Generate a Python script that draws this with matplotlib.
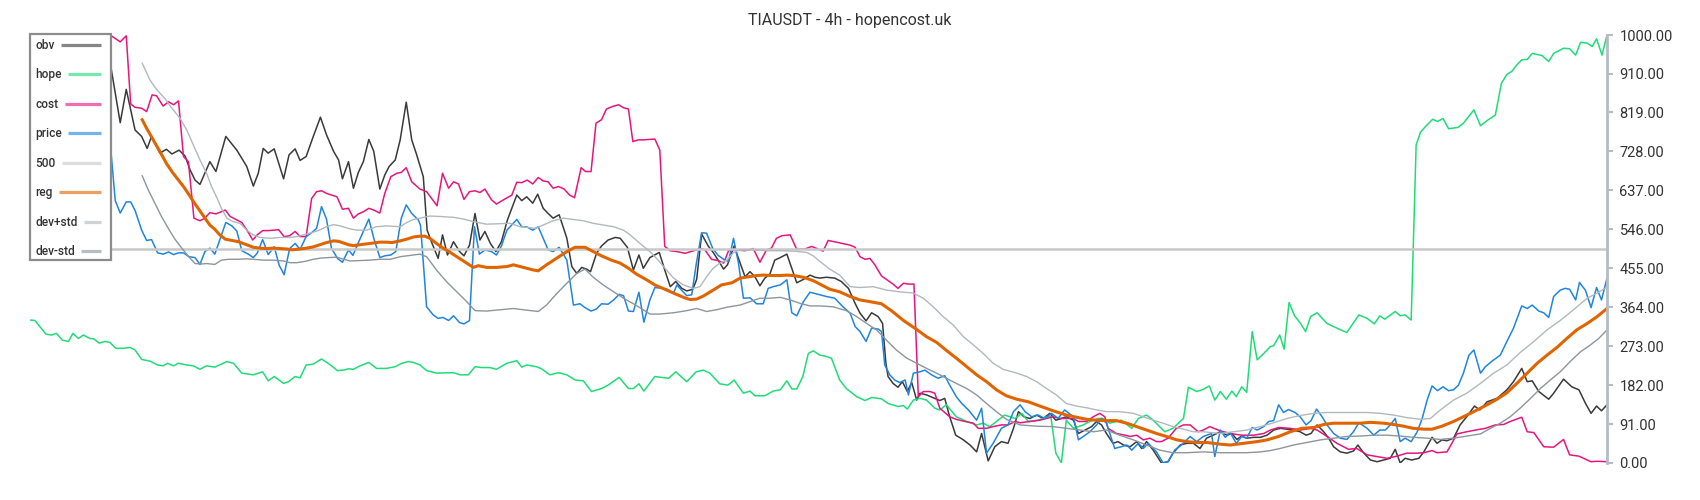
#!/usr/bin/env python3
# -*- coding: utf-8 -*-

import sys

import matplotlib
matplotlib.use("Agg")
from matplotlib import pyplot as plt
from matplotlib.lines import Line2D
from matplotlib.patches import Rectangle
from matplotlib.ticker import FixedLocator, FormatStrFormatter

FIG_W, FIG_H = 1700, 500

TITLE = "TIAUSDT - 4h - hopencost.uk"
Y_TICKS = [0, 91, 182, 273, 364, 455, 546, 637, 728, 819, 910, 1000]
LEVEL = 500

# candle index / value pairs
OBV_T = [0, 3, 6, 9, 12,
         14.7, 16.4, 17.5, 19.1, 20.3, 21.3, 22.1, 23.6, 24.8, 25.8,
         27.1, 28.2, 29.1, 30.0, 30.9, 32.7, 33.8, 35.6, 37.6, 39.4,
         40.6, 41.5, 42.4, 43.3, 44.4, 46.1, 47.1, 48.2, 49.1, 50.2,
         51.5, 52.8, 53.9, 55.2, 56.1, 56.8, 57.9, 58.8, 59.7, 60.6,
         61.6, 62.5, 63.6, 64.5, 65.3, 66.4, 67.3, 68.4, 69.4, 70.3,
         71.5, 72.2, 73.1, 74.2, 75.0, 75.9, 77.0, 78.1, 78.9, 79.9,
         80.9, 81.8, 82.7, 83.7, 84.7, 85.7, 86.8, 88.5, 89.4, 90.3,
         91.4, 92.3, 93.3, 94.2, 95.1, 96.2, 97.6, 98.5, 99.4, 100.3,
         101.2, 101.9, 103.0, 103.9, 105.1, 106.4, 107.3, 108.6, 109.7, 110.7,
         111.5, 112.7, 114.4, 115.4, 116.4, 117.4, 118.5, 119.4, 120.5, 121.2,
         122.1, 123.3, 124.2, 125.1, 126.1, 126.8, 128.0, 129.1, 130.0, 130.9,
         131.8, 132.7, 133.6, 134.5, 135.4, 136.4, 137.6, 139.4, 140.6, 141.8,
         142.7, 143.6, 144.8, 146.3, 147.5, 148.8, 150.0, 150.9, 152.0, 153.0,
         154.2, 155.0, 155.6, 156.0, 156.9, 157.8, 158.6, 159.5, 160.3, 161.2,
         161.8, 163.0, 164.5, 165.4, 166.3, 167.2, 168.3, 169.7, 170.9, 172.1,
         173.0, 174.2, 175.4, 176.6, 177.8, 178.8, 179.7, 180.7, 181.8, 183.0,
         184.2, 185.4, 186.5, 187.5, 188.4, 189.7, 190.6, 191.8, 193.0, 193.9,
         194.8, 195.7, 196.9, 197.8, 198.8, 200.0, 201.2, 202.1, 203.0, 204.2,
         205.7, 206.9, 207.8, 209.1, 210.3, 211.5, 212.7, 213.9, 215.1,
         216.4, 217.6, 218.5, 219.4, 220.3, 221.2, 222.5, 223.7, 224.9, 226.1,
         227.3, 228.5, 229.7, 230.9, 232.0, 232.9, 234.0, 235.2, 236.1, 237.0,
         238.2, 239.4, 240.6, 241.4, 242.5, 243.7, 244.9, 246.1, 247.3, 248.2,
         249.1, 250.0, 251.2, 252.5, 253.4, 254.9, 255.8, 256.7, 257.6, 258.8,
         260.0, 261.2, 262.6, 263.6, 264.9, 266.7, 268.5, 269.7, 271.2, 272.2,
         273.1, 274.3, 276.1, 277.0, 278.8, 280.3, 281.6, 282.8, 283.8, 284.8,
         285.7, 286.7]
OBV_V = [880, 850, 905, 870, 940,
         926, 795, 873, 778, 763, 735, 763, 724, 733, 722,
         731, 717, 685, 661, 651, 704, 681, 763, 731, 693,
         647, 677, 735, 724, 734, 664, 720, 734, 707, 716,
         763, 808, 767, 728, 708, 664, 704, 642, 679, 704,
         756, 728, 640, 673, 693, 708, 755, 843, 755, 720,
         669, 544, 513, 478, 533, 486, 517, 494, 484, 509,
         583, 521, 541, 513, 494, 517, 568, 626, 613, 622,
         607, 628, 595, 583, 572, 580, 525, 459, 443, 457,
         453, 447, 490, 507, 521, 527, 525, 504, 451, 486,
         455, 480, 492, 451, 412, 424, 408, 402, 406, 429,
         535, 507, 492, 474, 453, 463, 507, 467, 435, 447,
         435, 414, 432, 441, 474, 480, 488, 421, 429, 439,
         434, 432, 434, 432, 424, 408, 373, 350, 332, 351,
         342, 326, 233, 202, 186, 177, 190, 167, 188, 147,
         163, 159, 151, 146, 151, 108, 65, 54, 42, 26,
         69, 5, 38, 50, 46, 81, 120, 108, 104, 112,
         104, 116, 100, 104, 108, 100, 69, 77, 85, 97,
         89, 69, 46, 50, 42, 38, 50, 34, 50, 30,
         0, 3, 23, 42, 46, 46, 34, 58, 65,
         73, 65, 69, 55, 63, 58, 60, 60, 65, 77,
         81, 79, 77, 73, 65, 69, 89, 73, 58, 38,
         26, 23, 28, 42, 23, 7, 3, 7, 11, 32,
         0, 11, 7, 11, 26, 60, 46, 54, 52, 58,
         89, 108, 133, 124, 143, 151, 171, 190, 221, 190,
         192, 167, 149, 163, 196, 178, 171, 139, 116, 133,
         122, 136]

HOPE_T = [0, 0.9, 2.9, 3.9, 4.8, 5.9, 7.0, 7.8, 8.8, 9.7,
          10.9, 11.6, 12.6, 13.6, 14.5, 15.6, 17.0, 18.2, 19.1, 20.3,
          21.8, 23.2, 24.2, 25.0, 26.1, 27.0, 28.5, 29.7, 30.9, 32.1,
          33.6, 35.8, 37.0, 38.5, 40.6, 42.3, 43.3, 44.4, 46.1, 47.0,
          48.2, 49.1, 50.2, 51.5, 53.0, 54.2, 55.9, 57.0, 57.9, 58.8,
          60.0, 61.6, 63.0, 64.8, 66.4, 67.6, 68.8, 69.7,
          70.9, 72.1, 73.9, 77.0, 78.2, 79.7, 80.9, 82.1, 83.6, 84.8,
          86.7, 88.5, 89.4, 90.3, 92.1, 93.0, 94.5, 96.1, 97.6, 99.1,
          100.6, 102.1, 103.9, 105.1, 107.1, 108.8, 109.7, 110.7, 111.6, 113.6,
          116.1, 117.4, 119.4, 121.1, 122.4, 123.6, 125.4, 126.9, 128.0, 129.7,
          130.9, 131.8, 133.6, 135.1, 136.4, 137.6, 138.5, 139.4, 140.5, 141.5,
          142.4,
          143.6, 144.5, 145.7, 147.2, 148.4, 150.3, 151.8, 153.0, 154.8, 156.0,
          157.8, 158.8, 159.5, 160.6, 161.8, 163.0, 164.5, 165.4, 166.6, 168.4,
          170.3, 172.1, 173.3, 174.5, 175.7, 177.2, 179.1, 180.3, 181.5, 183.3,
          184.8, 185.6, 186.5, 187.5, 188.4, 189.7, 191.5, 192.7, 194.2, 195.1,
          196.3, 197.5, 198.4, 200.3, 201.5, 203.0, 204.2, 206.3, 207.8, 209.1,
          209.7, 210.6, 212.1, 213.3, 214.4, 215.4,
          216.4, 217.5, 218.5, 219.3, 220.3, 221.2, 222.2, 223.1, 224.3, 225.5,
          226.1, 227.2, 228.0, 228.9, 229.9, 231.0, 231.9, 232.8, 234.0, 235.8,
          237.6, 239.4, 241.6, 243.1, 244.4, 245.4, 246.3, 248.2, 249.1, 250.0,
          251.1, 252.0, 252.8, 253.7, 255.0, 255.9, 256.9, 257.9, 259.6, 260.6,
          262.5, 263.7, 264.9, 266.4, 267.5, 268.5, 269.4, 270.3, 271.2, 272.2,
          273.1, 274.9, 276.1, 277.0, 278.8, 279.9, 281.0, 281.9, 283.1, 284.0,
          284.8, 285.8, 286.7]
HOPE_V = [334, 333, 301, 299, 303, 287, 284, 303, 291, 299,
          291, 290, 280, 284, 282, 268, 268, 270, 264, 242,
          238, 229, 227, 233, 227, 233, 229, 227, 219, 227,
          224, 237, 233, 210, 206, 213, 192, 202, 186, 190,
          202, 199, 229, 231, 243, 233, 216, 217, 220, 219,
          227, 235, 221, 221, 225, 233, 237, 235,
          229, 216, 210, 211, 206, 206, 225, 223, 223, 219,
          233, 239, 224, 229, 225, 220, 206, 211, 206, 194,
          192, 167, 174, 182, 200, 174, 174, 185, 168, 202,
          198, 213, 190, 213, 217, 210, 185, 182, 194, 163,
          168, 157, 157, 168, 171, 192, 173, 173, 202, 256,
          262,
          252, 250, 245, 194, 174, 155, 146, 153, 150, 139,
          132, 134, 126, 147, 151, 147, 128, 124, 136, 108,
          97, 89, 93, 85, 97, 112, 104, 116, 97, 100,
          108, 108, 23, 0, 100, 81, 89, 97, 104, 104,
          93, 97, 100, 81, 104, 112, 100, 73, 81, 97,
          104, 177, 167, 172, 180, 147,
          167, 149, 168, 155, 178, 165, 307, 241, 256, 272,
          274, 299, 266, 375, 344, 326, 307, 342, 351, 326,
          315, 305, 346, 338, 325, 344, 336, 354, 344, 346,
          334, 743, 773, 786, 803, 798, 805, 781, 784, 794,
          825, 788, 800, 813, 887, 908, 915, 930, 942, 943,
          957, 952, 938, 957, 969, 968, 953, 983, 981, 973,
          991, 953, 1000]

COST_T = [0, 3, 6, 9, 12,
          14.8, 16.4, 17.5, 18.3, 19.1, 20.3, 21.2, 22.2, 23.0, 24.2,
          25.2, 26.1, 27.0, 27.9, 28.8, 29.8, 30.9, 31.8, 32.7, 33.8,
          35.5, 36.4, 37.6, 38.5, 39.4, 40.5, 41.3, 42.3, 43.3, 45.2,
          46.2, 47.2, 48.2, 49.1, 50.2, 51.2, 52.1, 53.0, 53.9, 55.8,
          56.8, 57.9, 58.8, 59.7, 60.6, 61.6, 62.5, 63.6, 64.5, 65.6,
          66.7, 67.5, 68.4, 69.4,
          70.9, 72.1, 74.0, 75.0, 76.1, 77.0, 77.9, 78.9, 79.9, 80.9,
          81.8, 82.7, 83.9, 84.8, 86.1, 87.6, 88.5, 89.4, 90.4, 91.4,
          92.4, 93.3, 94.2, 95.1, 96.1, 97.1, 98.1, 99.0, 100.2, 101.0,
          102.0, 102.9, 103.9, 104.8, 105.9, 107.0, 107.9, 108.8, 109.6, 110.6,
          111.6, 112.7, 113.6, 114.5, 115.4, 116.4, 117.6, 119.1, 121.2, 121.8,
          122.7, 123.9, 125.1, 126.1, 127.0, 128.2, 130.0, 131.5, 132.7, 133.9,
          134.8, 135.7, 136.7, 138.2, 139.4, 140.9, 142.1,
          143.6, 144.2, 145.1, 146.6, 149.1, 150.0, 150.9, 151.8, 152.7, 153.6,
          154.8, 155.7, 156.9, 157.8, 158.8, 159.7, 160.7, 161.5, 162.4, 163.6,
          164.5, 165.4, 166.3, 167.2, 168.4, 170.0, 171.5, 172.4, 173.9, 175.1,
          176.6, 177.8, 179.1, 180.0, 181.8, 183.6, 184.8, 186.0, 187.5, 188.4,
          189.7, 190.6, 192.1, 193.3, 194.5, 195.4, 196.0, 197.5, 199.1, 200.0,
          201.2, 202.4, 203.6, 204.8, 205.7, 206.9, 208.4, 209.7, 210.9, 212.4,
          213.3, 214.5,
          216.4, 218.2, 220.3, 222.5, 224.3, 225.5, 227.0, 229.1, 231.0, 232.8,
          234.0, 235.8, 237.6, 239.7, 241.2, 243.1, 244.9, 246.7, 248.5, 250.3,
          252.2, 253.4, 254.9, 255.8, 257.6, 258.5, 259.4, 261.2, 262.8, 264.6,
          266.4, 267.9, 269.1, 271.2, 272.2, 273.4, 275.2, 277.0, 278.8, 279.9,
          281.6, 283.8, 284.9, 286.7]
COST_V = [975, 990, 970, 995, 985,
          998, 984, 998, 839, 831, 829, 821, 860, 858, 834,
          844, 837, 846, 716, 704, 572, 566, 572, 585, 582,
          591, 576, 568, 562, 545, 521, 533, 543, 543, 545,
          529, 531, 541, 529, 529, 618, 634, 636, 630, 622,
          593, 595, 572, 582, 587, 595, 591, 584, 630, 669,
          677, 679, 690, 657,
          640, 634, 601, 677, 642, 657, 652, 616, 634, 636,
          632, 640, 615, 605, 615, 626, 656, 655, 661, 652,
          667, 659, 657, 642, 646, 640, 626, 620, 690, 681,
          681, 794, 802, 827, 833, 837, 830, 827, 751, 755,
          755, 756, 757, 731, 506, 496, 494, 490, 498, 502,
          498, 476, 473, 467, 496, 498, 496, 501, 469, 498,
          502, 525, 531, 533, 499, 500, 506,
          498, 495, 520, 516, 509, 504, 482, 476, 478, 463,
          437, 429, 418, 408, 420, 418, 418, 155, 167, 167,
          163, 128, 118, 108, 102, 97, 93, 81, 81, 85,
          89, 89, 97, 94, 97, 100, 104, 108, 104, 104,
          104, 97, 97, 108, 116, 108, 81, 69, 65, 62,
          65, 54, 58, 50, 50, 58, 81, 89, 89, 73,
          77, 85,
          75, 69, 65, 65, 69, 77, 83, 81, 77, 81,
          77, 62, 46, 32, 34, 19, 15, 11, 16, 23,
          23, 24, 29, 24, 26, 46, 68, 73, 77, 81,
          89, 90, 97, 107, 73, 71, 38, 37, 55, 19,
          16, 3, 4, 3]

PRICE_T = [0, 3, 6, 9, 12,
           14.7, 15.5, 16.4, 17.5, 18.3, 19.1, 20.3, 21.2, 22.1, 23.2,
           24.2, 25.2, 26.1, 27.0, 27.9, 28.9, 30.0, 30.9, 31.8, 32.7,
           33.6, 35.6, 36.7, 37.6, 38.5, 39.7, 40.6, 41.3, 42.3, 43.3,
           44.4, 45.3, 46.2, 47.2, 48.2, 49.1, 50.2, 51.2, 52.1, 53.0,
           53.9, 54.8, 55.9, 56.8, 57.9, 58.7, 59.7, 60.6, 61.6, 62.5,
           63.6, 64.5, 65.6, 66.5, 67.5, 68.4, 69.4, 70.6,
           71.0, 72.1, 73.3, 74.2, 75.1, 76.1, 77.0, 78.1, 78.9, 79.9, 80.8,
           81.7, 82.7, 83.9, 84.8, 85.7, 86.7, 88.5, 89.4, 90.3, 91.4,
           92.4, 93.3, 94.2, 95.1, 96.2, 97.6, 98.8, 100.0, 100.9, 102.0,
           103.0, 103.9, 105.1, 106.2, 107.1, 107.9, 108.8, 109.7, 110.7, 111.6,
           112.7, 113.6, 115.7, 117.0, 117.6, 118.5, 119.4, 120.3, 121.1, 122.1,
           123.0, 124.1, 125.1, 126.1, 127.0, 127.9, 128.8, 129.7, 130.9, 132.1,
           133.3, 134.2, 135.1, 136.4, 137.6, 138.5, 139.4, 140.6, 141.8,
           143.6, 144.8, 146.3, 147.8, 149.1, 150.0, 150.9, 152.0, 153.0, 154.2,
           154.8, 155.4, 156.3, 157.2, 158.1, 159.1, 159.7, 160.6, 161.8, 162.7,
           163.9, 165.1, 166.3, 167.2, 168.4, 169.4, 170.6, 172.1, 173.0, 173.9,
           175.1, 176.6, 177.8, 178.8, 180.0, 180.9, 182.1, 183.3, 184.5, 185.7,
           186.9, 188.1, 189.7, 190.6, 191.8, 192.7, 193.9, 194.8, 195.7, 197.2,
           198.4, 199.4, 200.3, 201.5, 202.4, 203.3, 204.8, 206.0, 206.9, 208.1,
           209.7, 210.9, 212.1, 213.3, 214.8, 215.4,
           216.4, 217.3, 218.2, 219.3, 220.3, 221.2, 222.2, 223.1, 224.3, 225.2,
           226.1, 227.0, 227.9, 228.8, 230.0, 230.9, 232.0, 232.9, 233.9, 234.9,
           235.8, 237.0, 238.2, 239.4, 240.6, 241.6, 243.1, 244.3, 245.4, 246.4,
           247.3, 248.2, 249.1, 250.0, 251.1, 252.2, 253.1, 254.0, 254.9, 255.9,
           256.9, 257.9, 258.8, 259.7, 260.6, 261.6, 262.5, 263.7, 264.6, 265.8,
           267.3, 268.5, 269.7, 271.2, 272.2, 273.1, 274.3, 275.2, 276.1, 277.0,
           278.2, 279.1, 279.9, 281.0, 281.7, 282.8, 283.8, 284.8, 285.7, 286.7]
PRICE_V = [800, 770, 790, 760, 775,
           731, 613, 584, 610, 610, 590, 544, 520, 522, 491,
           488, 493, 487, 491, 491, 482, 480, 464, 494, 502,
           488, 562, 554, 542, 496, 488, 480, 490, 522, 487,
           505, 462, 440, 501, 513, 499, 529, 538, 548, 599,
           570, 502, 478, 469, 498, 485, 515, 541, 570, 525,
           480, 484, 486, 494, 572, 603, 583, 568,
           555, 365, 346, 338, 340, 333, 344, 328, 325, 333, 552,
           488, 498, 494, 486, 507, 544, 569, 552, 552, 544,
           552, 525, 498, 494, 504, 474, 369, 372, 363, 355,
           360, 372, 371, 382, 394, 391, 355, 354, 399, 329,
           381, 410, 407, 397, 416, 403, 391, 393, 463, 538,
           537, 502, 485, 476, 471, 525, 467, 385, 386, 372,
           372, 408, 412, 416, 428, 351, 344, 377, 399,
           393, 389, 385, 365, 350, 319, 307, 284, 315, 313,
           307, 229, 206, 194, 188, 194, 159, 210, 213, 217,
           206, 198, 204, 182, 155, 139, 124, 100, 128, 23,
           46, 81, 89, 120, 136, 120, 108, 112, 104, 116,
           104, 124, 108, 54, 65, 73, 89, 104, 93, 34,
           38, 42, 30, 46, 34, 46, 26, 0, 3, 30,
           46, 62, 50, 62, 69, 15,
           77, 60, 71, 46, 62, 58, 83, 77, 85, 97,
           99, 136, 118, 125, 118, 108, 89, 99, 126, 108,
           89, 69, 58, 55, 73, 94, 81, 65, 77, 77,
           89, 104, 50, 58, 50, 73, 104, 147, 180, 169,
           178, 169, 171, 182, 210, 252, 264, 210, 225, 238,
           252, 284, 315, 367, 361, 369, 355, 351, 340, 389,
           404, 408, 406, 381, 422, 403, 363, 410, 381, 432]

REG_T = [20.4, 21.2, 22.4, 23.6, 24.8, 25.9, 27.0, 27.9, 28.8, 29.7,
         30.9, 31.8, 32.7, 33.6, 34.5, 35.5, 36.7, 37.9, 39.4, 40.6,
         41.8, 43.0, 44.2, 45.5, 46.7, 47.6, 49.1, 50.3, 51.5, 52.7,
         53.9, 55.2, 56.1, 57.0, 57.9, 58.8, 60.0, 61.2, 62.4, 63.6,
         64.8, 65.8, 67.3, 68.5, 69.7,
         70.9, 71.8, 72.7, 73.9, 75.1, 76.4, 77.6, 78.8, 80.6, 81.5,
         83.0, 84.8, 86.7, 87.9, 89.1, 90.3, 91.5, 92.4, 93.9, 95.7,
         97.6, 99.1, 100.9, 102.4, 103.9, 105.7, 107.3, 108.8, 110.3, 112.1,
         113.6, 115.4, 117.0, 118.8, 120.0, 121.2, 122.4, 124.2, 125.7, 127.6,
         129.1, 130.6, 132.1, 133.3, 135.1, 136.4, 137.6, 138.8, 140.6, 142.4,
         143.6, 145.4, 147.2, 149.1, 150.9, 152.7, 154.8, 156.6, 158.8, 161.2,
         163.0, 164.8, 166.6, 168.4, 170.3, 172.1, 173.9, 175.7, 177.5, 179.4,
         181.5, 183.6, 186.0, 188.4, 190.3, 192.1, 193.9, 195.7, 197.5, 199.4,
         201.2, 203.0, 204.8, 206.6, 208.5, 210.3, 212.1, 213.9,
         216.4, 218.2, 220.6, 223.1, 224.9, 227.0, 229.1, 231.2, 233.4, 235.2,
         237.0, 239.4, 241.9, 243.7, 246.1, 247.9, 249.7, 251.5, 253.4, 254.9,
         256.7, 258.8, 260.9, 263.1, 264.9, 266.7, 268.5, 270.3, 272.2, 274.0,
         275.8, 277.6, 279.4, 281.2, 283.1, 284.9, 286.7]
REG_V = [802, 782, 755, 728, 700, 679, 661, 646, 629, 611,
         589, 572, 556, 546, 533, 523, 520, 517, 510, 504,
         502, 501, 502, 501, 500, 498, 500, 502, 505, 510,
         515, 519, 518, 514, 510, 508, 510, 512, 514, 516,
         516, 515, 519, 523, 528,
         530, 530, 525, 513, 502, 492, 482, 472, 457, 461,
         457, 457, 459, 463, 459, 455, 451, 449, 463, 478,
         494, 504, 504, 494, 484, 474, 467, 455, 441, 428,
         416, 406, 397, 387, 382, 383, 390, 404, 416, 421,
         432, 435, 438, 439, 438, 438, 439, 438, 434, 426,
         418, 406, 400, 389, 381, 377, 372, 356, 333, 312,
         295, 282, 263, 245, 225, 206, 190, 171, 157, 149,
         143, 133, 122, 112, 107, 102, 100, 99, 99, 93,
         85, 77, 69, 62, 54, 50, 48, 48,
         44, 42, 46, 50, 54, 62, 73, 81, 83, 90,
         93, 93, 93, 95, 93, 90, 86, 81, 79, 79,
         86, 97, 110, 124, 136, 149, 164, 186, 210, 233,
         252, 270, 291, 311, 326, 342, 361]

DEV_UP_T = [20.4, 21.8, 23.0, 24.5, 25.8, 27.3, 28.5, 29.7, 30.9, 32.1,
            33.0, 33.9, 34.8, 35.8, 36.9, 38.2, 39.4, 40.6, 41.8, 43.6,
            45.5, 47.3, 48.5, 49.7, 51.2, 52.4, 53.9, 55.2, 56.4, 57.9,
            59.4, 61.2, 63.0, 64.8, 67.3, 68.5, 69.7,
            70.9, 72.7, 74.5, 77.0, 78.8, 80.6, 83.0, 85.4, 87.3, 89.1,
            90.3, 91.8, 93.3, 95.1, 97.0, 98.8, 100.6, 102.4, 104.2, 106.1,
            107.9, 109.1, 110.9, 112.7, 114.2, 115.7, 117.0, 118.8, 120.6, 121.8,
            123.0, 124.2, 125.4, 126.7, 127.9, 129.1, 131.5, 133.9, 136.4, 138.8,
            141.2, 142.4,
            143.6, 145.4, 147.2, 149.1, 150.9, 153.3, 155.7, 158.1, 160.6, 162.4,
            164.2, 166.0, 167.8, 169.7, 171.5, 173.3, 175.1, 176.9, 179.4, 181.2,
            183.0, 184.8, 186.6, 188.4, 190.3, 192.1, 193.9, 195.7, 198.1, 200.6,
            202.4, 204.2, 206.0, 207.8, 209.7, 211.5, 213.3,
            216.4, 218.8, 221.2, 223.7, 226.1, 228.5, 230.9, 233.4, 235.8, 238.2,
            240.6, 243.1, 245.5, 247.9, 250.3, 252.8, 254.6, 256.4, 258.8, 261.2,
            263.7, 266.1, 268.5, 270.9, 273.4, 275.8, 278.2, 280.6, 283.1, 284.9,
            286.7]
DEV_UP_V = [934, 895, 873, 852, 829, 805, 778, 743, 708, 677,
            646, 622, 595, 572, 564, 560, 544, 533, 527, 525,
            527, 527, 529, 533, 538, 543, 552, 557, 554, 548,
            544, 544, 552, 554, 552, 562, 569,
            572, 577, 576, 574, 570, 564, 558, 559, 560, 552,
            551, 548, 556, 566, 572, 569, 566, 560, 556, 552,
            544, 533, 513, 494, 474, 451, 432, 416, 408, 412,
            435, 455, 467, 474, 492, 498, 498, 496, 496, 495,
            492, 484,
            471, 453, 439, 412, 410, 412, 404, 400, 397, 385,
            365, 342, 323, 295, 276, 256, 233, 219, 210, 202,
            190, 174, 159, 139, 133, 129, 124, 120, 120, 116,
            108, 100, 93, 85, 79, 73, 73,
            69, 73, 77, 85, 94, 104, 111, 116, 118, 118,
            118, 118, 116, 112, 106, 102, 104, 124, 147, 163,
            186, 210, 229, 258, 284, 311, 333, 358, 385, 397,
            411]

DEV_DN_T = [20.4, 21.5, 22.7, 23.9, 25.2, 26.4, 27.6, 28.8, 30.0, 31.2,
            32.1, 33.6, 34.8, 36.1, 37.6, 39.4, 40.6, 42.4, 44.2, 46.1,
            47.3, 48.5, 50.0, 51.5, 53.0, 54.5, 55.8, 57.0, 58.2, 60.0,
            61.8, 63.6, 65.5, 67.3, 69.1,
            70.9, 72.1, 73.9, 75.7, 77.6, 79.4, 80.9, 83.0, 85.4, 87.9,
            89.7, 92.4, 93.9, 95.7, 97.6, 99.4, 100.9, 102.4, 104.2, 106.1,
            107.9, 109.7, 111.5, 112.7, 114.5, 117.0, 119.4, 121.2, 123.0, 124.8,
            126.7, 129.1, 130.9, 132.7, 134.5, 136.4, 138.2, 140.0, 141.8,
            143.6, 146.0, 148.4, 150.3, 152.1, 153.9, 155.7, 157.5, 159.4, 161.2,
            163.0, 164.8, 166.6, 168.4, 170.3, 172.1, 173.9, 175.7, 177.5, 180.0,
            183.0, 186.0, 188.4, 190.9, 193.3, 195.7, 198.1, 200.6, 203.0, 205.4,
            207.8, 210.3, 213.3,
            216.4, 218.8, 221.2, 223.7, 225.5, 227.3, 229.7, 232.2, 234.6, 237.0,
            239.4, 241.9, 244.3, 246.7, 249.1, 251.5, 254.0, 256.4, 258.8, 261.2,
            263.7, 265.5, 267.3, 269.1, 270.9, 272.8, 274.6, 276.4, 278.2, 280.0,
            281.9, 283.7, 285.2, 286.7]
DEV_DN_V = [671, 638, 607, 576, 547, 522, 502, 483, 466, 465,
            466, 464, 474, 476, 476, 477, 476, 474, 474, 472,
            468, 468, 471, 476, 479, 480, 481, 476, 472, 473,
            474, 476, 476, 482, 485,
            488, 482, 451, 424, 400, 377, 356, 355, 358, 361,
            358, 354, 369, 395, 420, 443, 453, 434, 416, 400,
            385, 372, 358, 348, 348, 351, 356, 361, 354, 358,
            364, 369, 377, 385, 385, 387, 381, 373, 367,
            367, 365, 356, 342, 326, 311, 287, 264, 245, 233,
            221, 210, 198, 186, 174, 159, 139, 120, 102, 89,
            86, 85, 81, 77, 73, 77, 65, 54, 42, 30,
            24, 24, 26,
            24, 24, 24, 26, 29, 34, 42, 48, 54, 58,
            62, 63, 65, 65, 63, 60, 58, 55, 58, 63,
            68, 81, 93, 108, 128, 151, 174, 194, 213, 237,
            260, 276, 291, 311]

COLORS = {
    "obv": "#3a3a3a",
    "hope": "#20dc78",
    "cost": "#e6167e",
    "price": "#1f85e0",
    "500": "#c8c8c8",
    "reg": "#e06400",
    "dev+std": "#b2b8be",
    "dev-std": "#8d959d",
}


def fx(px: float) -> float:
    return px / FIG_W


def fy(py: float) -> float:
    # pixel rows counted from the top
    return 1 - py / FIG_H


def draw_legend(fig: plt.Figure, ax: plt.Axes) -> None:
    # boxed legend: label on the left, swatch running to a common right edge
    renderer = fig.canvas.get_renderer()
    fig.add_artist(Rectangle((fx(30), fy(260)), fx(81), 226 / FIG_H, transform=fig.transFigure,
                             facecolor="white", edgecolor="#8c8c8c", linewidth=1.6, zorder=5))
    row_y = 44.5
    for line in ax.get_lines():
        label = line.get_label()
        txt = fig.text(fx(35), fy(row_y + 4.2), label, ha="left", va="baseline",
                       fontsize=8.6, color="#333333", fontweight="medium", zorder=6)
        right = txt.get_window_extent(renderer).x1
        fig.add_artist(Line2D([fx(right + 6.5), fx(101)], [fy(row_y), fy(row_y)],
                              transform=fig.transFigure, color=line.get_color(),
                              linewidth=2.3, alpha=0.62, solid_capstyle="butt", zorder=6))
        row_y += 29.5


def plot_chart(ax: plt.Axes) -> None:
    ax.plot(OBV_T, OBV_V, color=COLORS["obv"], lw=1.1, label="obv")
    ax.plot(HOPE_T, HOPE_V, color=COLORS["hope"], lw=1.1, label="hope")
    ax.plot(COST_T, COST_V, color=COLORS["cost"], lw=1.1, label="cost")
    ax.plot(PRICE_T, PRICE_V, color=COLORS["price"], lw=1.1, label="price")
    ax.axhline(LEVEL, color=COLORS["500"], lw=1.8, label="500")
    ax.plot(REG_T, REG_V, color=COLORS["reg"], lw=2.2, label="reg")
    ax.plot(DEV_UP_T, DEV_UP_V, color=COLORS["dev+std"], lw=1.0, label="dev+std")
    ax.plot(DEV_DN_T, DEV_DN_V, color=COLORS["dev-std"], lw=1.0, label="dev-std")

    ax.set_xlim(0, max(OBV_T))
    ax.set_ylim(0, 1000)
    ax.set_xticks([])

    for side in ("left", "top", "bottom"):
        ax.spines[side].set_visible(False)
    ax.spines["right"].set_color("#b4bcc4")
    ax.spines["right"].set_linewidth(2)

    ax.yaxis.tick_right()
    ax.yaxis.set_major_locator(FixedLocator(Y_TICKS))
    ax.yaxis.set_major_formatter(FormatStrFormatter("%.2f"))
    ax.tick_params(axis="y", direction="out", length=4, width=1.5, color="#b4bcc4",
                   labelcolor="#333333", labelsize=10.5, pad=5)


def main() -> int:
    plt.rcParams["font.family"] = ["Roboto", "DejaVu Sans"]

    fig = plt.figure(figsize=(FIG_W / 100, FIG_H / 100), dpi=100)
    ax = fig.add_axes([fx(30), 37 / FIG_H, 1577 / FIG_W, 428 / FIG_H])
    plot_chart(ax)
    draw_legend(fig, ax)
    fig.text(0.5, 0.95, TITLE, ha="center", va="baseline", fontsize=11.5, color="#333333")

    fig.savefig("out.png", dpi=100)
    return 0


if __name__ == "__main__":
    sys.exit(main())
